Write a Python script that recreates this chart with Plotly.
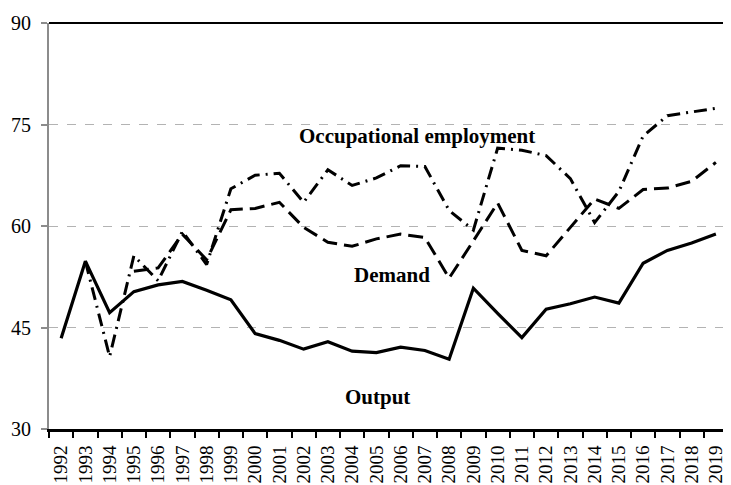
import plotly.graph_objects as go

years = list(range(1992, 2020))
output = [43.4, 54.8, 47.2, 50.3, 51.3, 51.8, 50.5, 49.1, 44.1, 43.1, 41.8, 42.9, 41.5, 41.3,
          42.1, 41.6, 40.3, 50.8, 47.1, 43.5, 47.7, 48.5, 49.5, 48.6, 54.5, 56.4, 57.5, 58.8]
demand = [None, None, None, 53.3, 53.8, 58.8, 55.0, 62.4, 62.6, 63.5, 59.8, 57.6, 57.0, 58.1,
          58.8, 58.3, 52.3, 57.8, 63.4, 56.4, 55.6, 59.8, 64.0, 62.6, 65.4, 65.6, 66.6, 69.4]
employment = [None, 54.8, 40.7, 55.6, 51.9, 59.2, 54.3, 65.5, 67.5, 67.8, 63.5, 68.3, 66.0, 67.1,
              68.9, 68.8, 62.3, 59.4, 71.5, 71.2, 70.4, 67.0, 60.5, 65.1, 73.3, 76.3, 76.8, 77.4]
y_ticks = [30, 45, 60, 75, 90]
series_labels = ["Occupational employment", "Demand", "Output"]

FONT = "Liberation Serif, Times New Roman, serif"

fig = go.Figure()
fig.add_trace(go.Scatter(x=years, y=employment, mode="lines", name=series_labels[0],
                         line=dict(color="black", width=3, dash="13px,6px,2px,6px")))
fig.add_trace(go.Scatter(x=years, y=demand, mode="lines", name=series_labels[1],
                         line=dict(color="black", width=3, dash="15px,7px")))
fig.add_trace(go.Scatter(x=years, y=output, mode="lines", name=series_labels[2],
                         line=dict(color="black", width=3.2)))

xr = [years[0] - 0.5, years[-1] + 0.5]

# the page body has an 8px margin, so the figure is offset by (8, 8)
fig.update_layout(
    width=723, height=477,
    margin=dict(l=41, r=3, t=15, b=56, pad=0),
    paper_bgcolor="white", plot_bgcolor="white",
    showlegend=False,
    font=dict(family=FONT, size=19, color="black"),
    xaxis=dict(
        range=xr, tickmode="array", tickvals=years, ticktext=[str(y) for y in years],
        tickangle=-90, ticks="", showgrid=False, zeroline=False, automargin=False,
        showline=True, linecolor="black", linewidth=3, ticklabelstandoff=6,
        tickfont=dict(family=FONT, size=19, color="black"),
        minor=dict(tickmode="linear", tick0=xr[0], dtick=1, ticks="outside",
                   ticklen=6, tickwidth=2, tickcolor="black", showgrid=False),
    ),
    xaxis2=dict(
        range=xr, overlaying="x", anchor="y", side="bottom", showticklabels=False,
        ticks="", showgrid=False, zeroline=False, showline=False, automargin=False,
        minor=dict(tickmode="linear", tick0=xr[0], dtick=1, ticks="inside",
                   ticklen=6, tickwidth=2, tickcolor="black", showgrid=False),
    ),
    yaxis=dict(
        range=[30, 90], tickmode="array", tickvals=y_ticks, automargin=False,
        ticks="outside", ticklen=6, tickwidth=1.5, tickcolor="#8c8c8c",
        showline=True, linecolor="#8c8c8c", linewidth=2,
        showgrid=True, gridcolor="#b3b3b3", griddash="dash", gridwidth=1.2,
        zeroline=False, ticklabelstandoff=6,
        tickfont=dict(family=FONT, size=20, color="black"),
    ),
    shapes=[
        dict(type="line", xref="paper", yref="paper", x0=0, x1=1, y0=1, y1=1,
             line=dict(color="black", width=2)),
        dict(type="line", xref="paper", yref="paper", x0=1, x1=1, y0=0, y1=1,
             line=dict(color="black", width=2)),
    ],
    annotations=[
        dict(x=2006.69, y=73.3, xref="x", yref="y", text="<b>" + series_labels[0] + "</b>",
             showarrow=False, font=dict(family=FONT, size=21, color="black")),
        dict(x=2005.63, y=52.8, xref="x", yref="y", text="<b>" + series_labels[1] + "</b>",
             showarrow=False, font=dict(family=FONT, size=21, color="black")),
        dict(x=2005.05, y=34.7, xref="x", yref="y", text="<b>" + series_labels[2] + "</b>",
             showarrow=False, font=dict(family=FONT, size=21, color="black")),
    ],
)

fig.write_html("out.html")
